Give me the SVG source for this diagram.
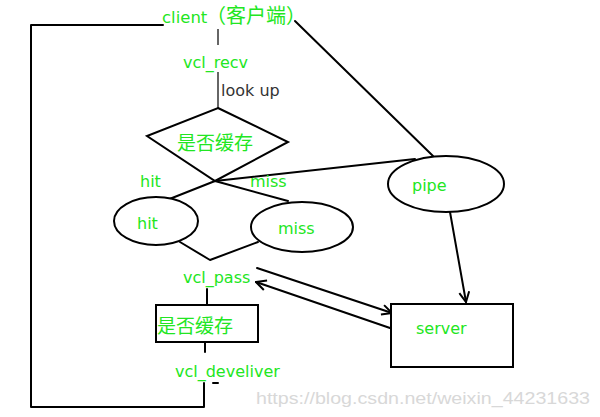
<svg xmlns="http://www.w3.org/2000/svg" width="600" height="417" viewBox="0 0 600 417">
<style>
.ln{fill:none;stroke:#000;stroke-width:2;stroke-linecap:round;stroke-linejoin:round}
.sh{fill:#fff;stroke:#000;stroke-width:2}
.g{fill:#22e622;font-family:"DejaVu Sans","Noto Sans CJK SC",sans-serif;font-size:16px}
.cn{fill:#22e622;font-family:"Noto Sans CJK SC",sans-serif;font-size:19px}
.d{fill:#333;font-family:"DejaVu Sans",sans-serif;font-size:16px}
.wm{fill:#d8d8d8;font-family:"Liberation Sans",sans-serif}
</style>
<defs>
<marker id="ar" viewBox="0 0 12 12" refX="11" refY="6" markerWidth="12" markerHeight="12" markerUnits="userSpaceOnUse" orient="auto">
<path d="M1,1 L11,6 L1,11" fill="none" stroke="#000" stroke-width="2"/>
</marker>
</defs>
<rect width="600" height="417" fill="#fff"/>
<g id="connectors">
<polyline class="ln" points="163,25 31,25 31,407 204,407 204,383"/>
<line class="ln" x1="213" y1="383" x2="218" y2="383"/>
<line x1="218" y1="29" x2="218" y2="45" stroke="#333" stroke-width="1.5"/>
<line x1="218" y1="72" x2="218" y2="108" stroke="#333" stroke-width="1.5"/>
<line class="ln" x1="295" y1="21" x2="433" y2="156"/>
<line class="ln" x1="215" y1="181" x2="415" y2="159"/>
<line class="ln" x1="215" y1="181" x2="167" y2="200"/>
<line class="ln" x1="215" y1="181" x2="288" y2="201"/>
<polyline class="ln" points="180,242 210,260 258,242"/>
<line class="ln" x1="450" y1="212" x2="466" y2="302" marker-end="url(#ar)"/>
<line class="ln" x1="257" y1="268" x2="392" y2="313" marker-end="url(#ar)"/>
<line class="ln" x1="390" y1="328" x2="256" y2="282" marker-end="url(#ar)"/>
<line class="ln" x1="207" y1="289" x2="207" y2="304"/>
<line class="ln" x1="205" y1="342" x2="205" y2="352"/>
</g>
<g id="client"><text class="g" x="162" y="23" style="font-size:16.5px">client<tspan x="206" style="font-family:'Noto Sans CJK SC',sans-serif;font-size:20px">（客户端）</tspan></text></g>
<g id="vcl_recv"><text class="g" x="183" y="68">vcl_recv</text></g>
<g id="lookup"><text class="d" x="221" y="96">look up</text></g>
<g id="decision1">
<polygon class="sh" points="218,108 288,142 215,181 147,136"/>
<text class="cn" x="177" y="150">是否缓存</text>
</g>
<g id="label-hit"><text class="g" x="140" y="187">hit</text></g>
<g id="label-miss"><text class="g" x="250" y="187">miss</text></g>
<g id="hit">
<ellipse class="sh" cx="156" cy="221" rx="42" ry="24"/>
<text class="g" x="137" y="229">hit</text>
</g>
<g id="miss">
<ellipse class="sh" cx="302" cy="227" rx="51" ry="25"/>
<text class="g" x="278" y="234">miss</text>
</g>
<g id="pipe">
<ellipse class="sh" cx="446" cy="184" rx="58" ry="28"/>
<text class="g" x="412" y="191">pipe</text>
</g>
<g id="vcl_pass"><text class="g" x="183" y="283">vcl_pass</text></g>
<g id="server">
<rect class="sh" x="391" y="304" width="122" height="63"/>
<text class="g" x="416" y="334">server</text>
</g>
<g id="decision2">
<rect class="sh" x="156" y="305" width="102" height="37"/>
<text class="cn" x="157" y="333">是否缓存</text>
</g>
<g id="vcl_deliver"><text class="g" x="175" y="377">vcl_develiver</text></g>
<text class="wm" x="256" y="404" font-size="17" textLength="334" lengthAdjust="spacingAndGlyphs">https://blog.csdn.net/weixin_44231633</text>
</svg>
